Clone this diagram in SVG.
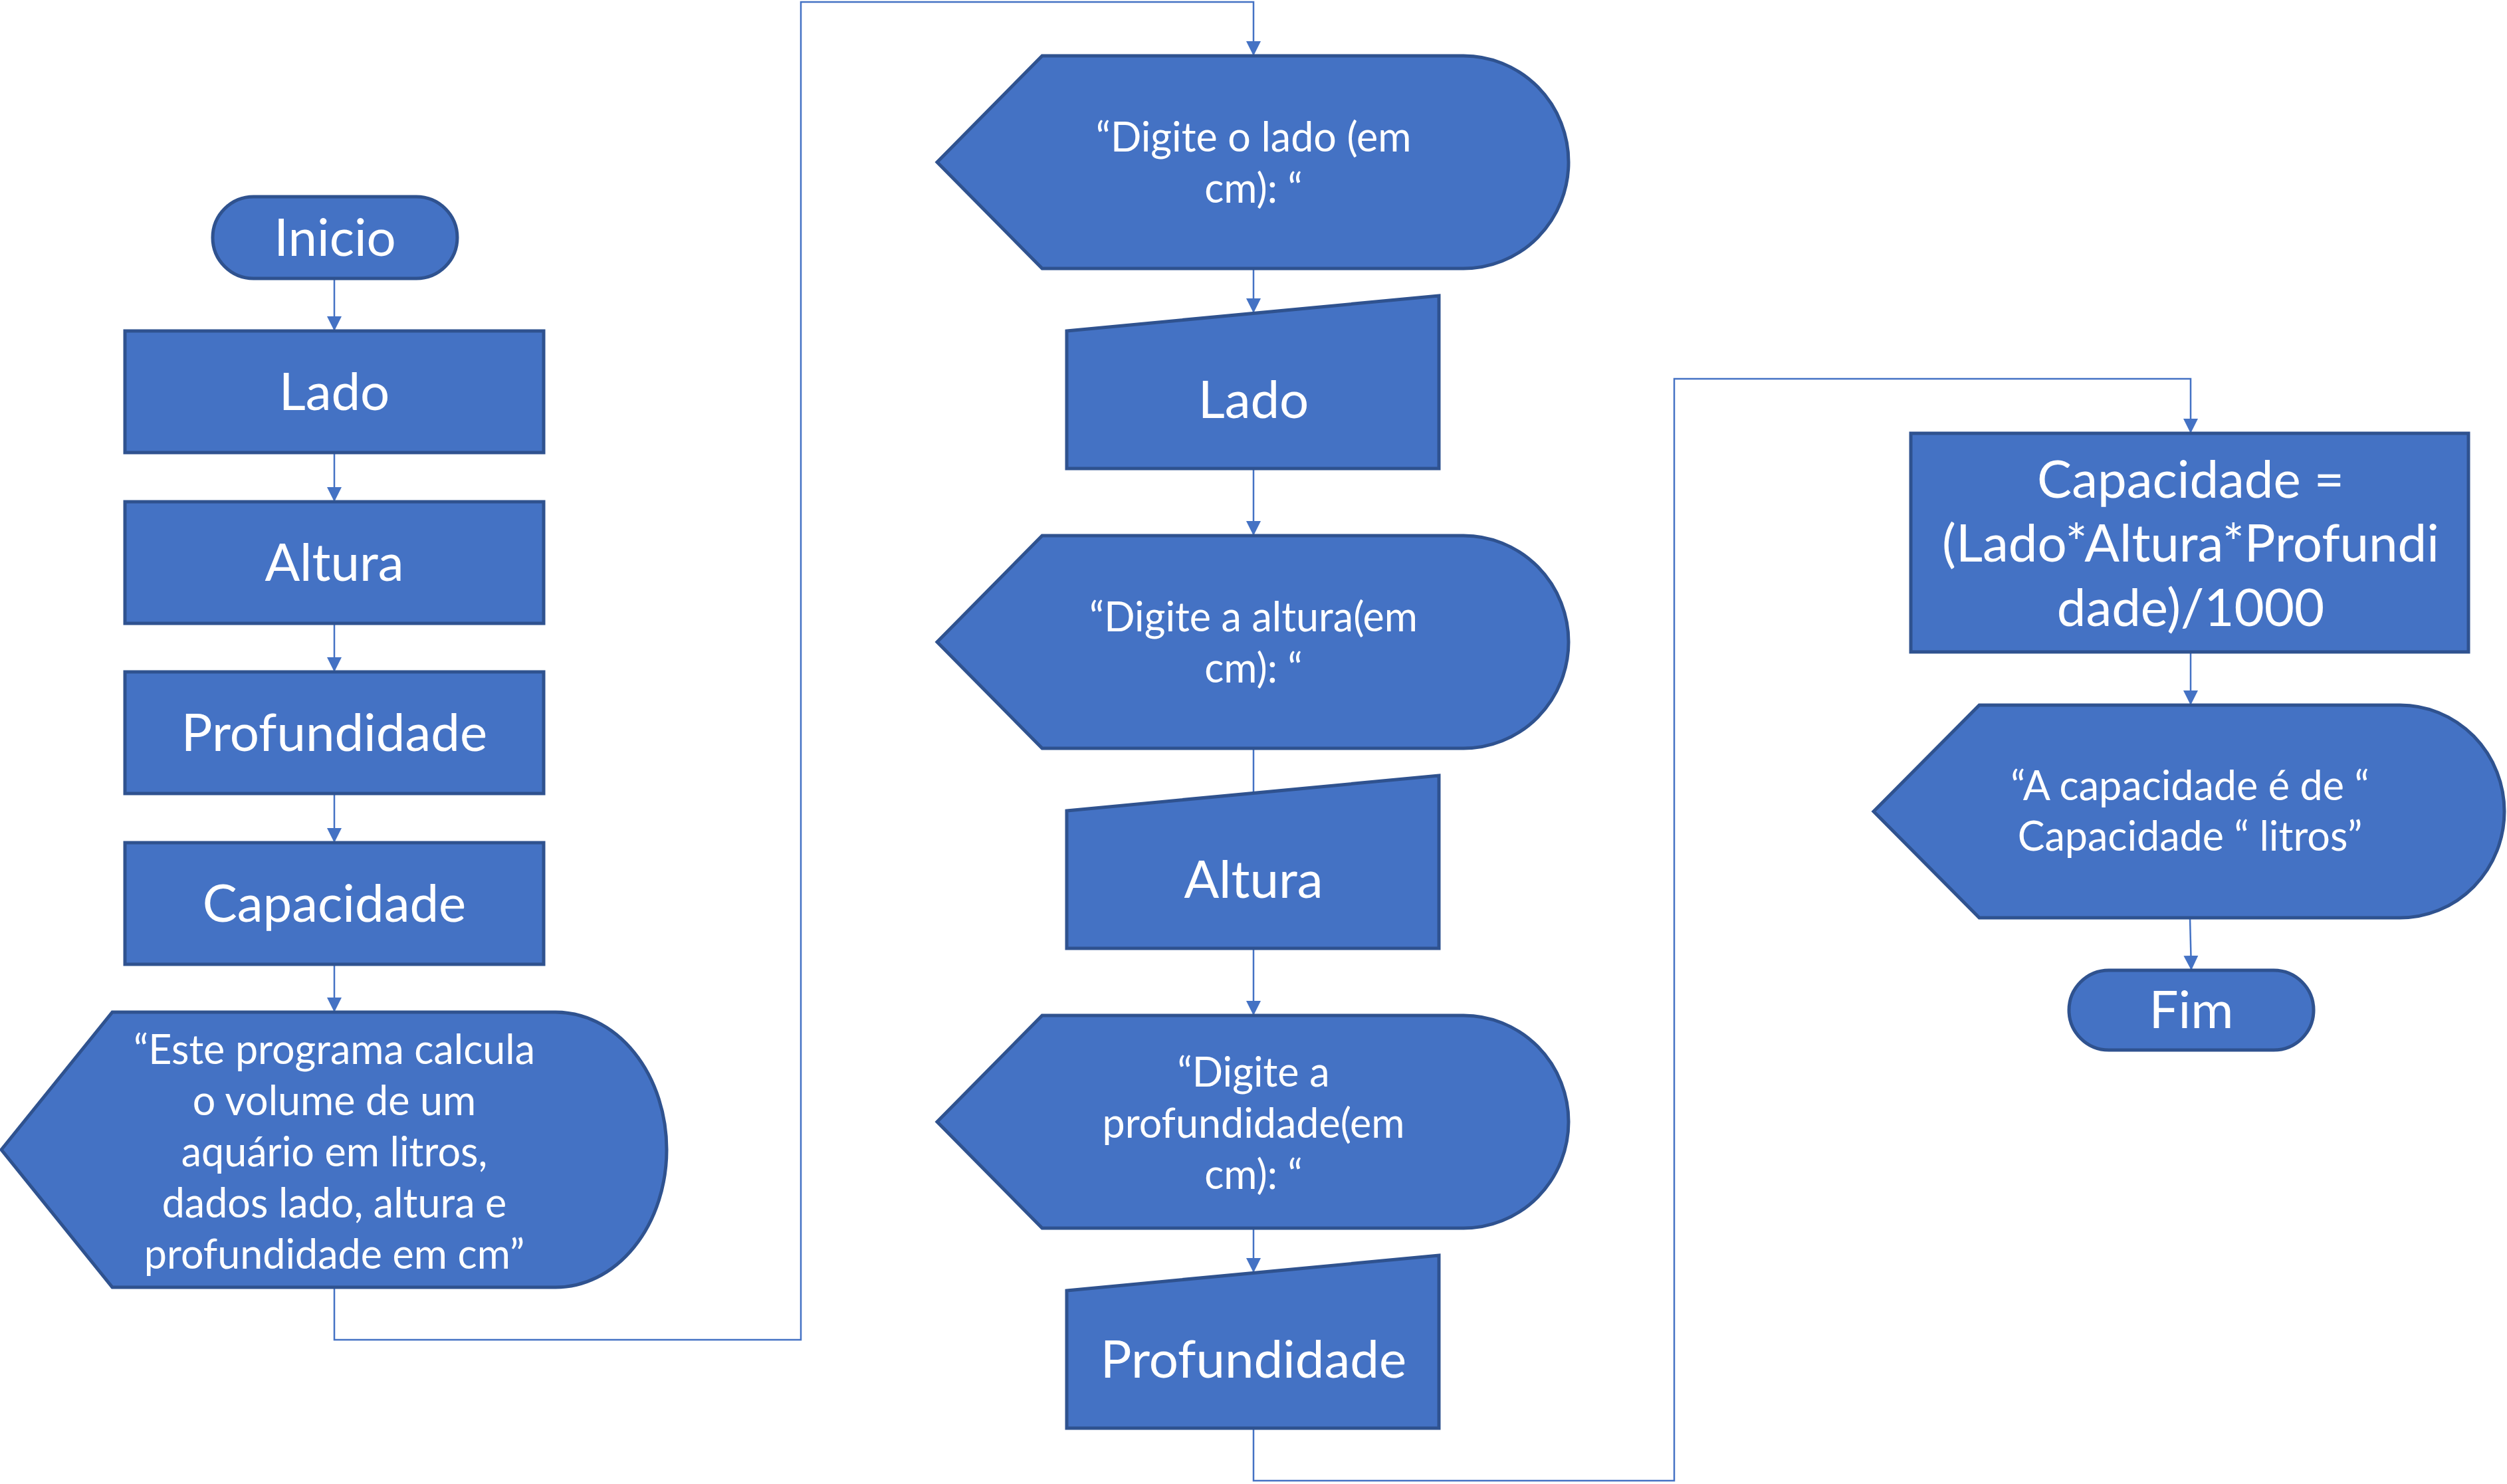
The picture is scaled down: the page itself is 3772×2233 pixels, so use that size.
<svg xmlns="http://www.w3.org/2000/svg" width="3772" height="2233" viewBox="0 0 3772 2233">
<defs>
<style>
.shape{fill:#4472C4;stroke:#2F528F;stroke-width:5}
.conn{fill:none;stroke:#4472C4;stroke-width:2.5}
.t{font-family:Lato,"Open Sans","Liberation Sans",sans-serif;fill:#FFFFFF;text-anchor:middle}
.big{font-size:78px}
.small{font-size:61px}
</style>
<marker id="arrow" markerUnits="userSpaceOnUse" markerWidth="22" markerHeight="26" viewBox="0 0 10 10" refX="10" refY="5" orient="auto">
<path d="M0,0 L10,5 L0,10 Z" fill="#4472C4"/>
</marker>
</defs>
<rect width="3772" height="2233" fill="#FFFFFF"/>
<g id="connectors">
<line class="conn" x1="503" y1="419" x2="503" y2="498" marker-end="url(#arrow)"/>
<line class="conn" x1="503" y1="681" x2="503" y2="755" marker-end="url(#arrow)"/>
<line class="conn" x1="503" y1="938" x2="503" y2="1011" marker-end="url(#arrow)"/>
<line class="conn" x1="503" y1="1194" x2="503" y2="1268" marker-end="url(#arrow)"/>
<line class="conn" x1="503" y1="1451" x2="503" y2="1523" marker-end="url(#arrow)"/>
<path class="conn" d="M503,1937 V2016 H1205 V3 H1886 V84" marker-end="url(#arrow)"/>
<line class="conn" x1="1886" y1="404" x2="1886" y2="471" marker-end="url(#arrow)"/>
<line class="conn" x1="1886" y1="705" x2="1886" y2="806" marker-end="url(#arrow)"/>
<line class="conn" x1="1886" y1="1126" x2="1886" y2="1193"/>
<line class="conn" x1="1886" y1="1427" x2="1886" y2="1528" marker-end="url(#arrow)"/>
<line class="conn" x1="1886" y1="1848" x2="1886" y2="1915" marker-end="url(#arrow)"/>
<path class="conn" d="M1886,2149 V2228 H2519 V570 H3296 V652" marker-end="url(#arrow)"/>
<line class="conn" x1="3296" y1="981" x2="3296" y2="1061" marker-end="url(#arrow)"/>
<line class="conn" x1="3295" y1="1381" x2="3297" y2="1460" marker-end="url(#arrow)"/>
</g>
<g id="inicio">
<rect class="shape" x="320" y="296" width="368" height="123" rx="61.5" ry="61.5"/>
<text class="t big" x="504" y="385">Inicio</text>
</g>
<g id="var-lado">
<rect class="shape" x="188" y="498" width="630" height="183"/>
<text class="t big" x="503" y="617">Lado</text>
</g>
<g id="var-altura">
<rect class="shape" x="188" y="755" width="630" height="183"/>
<text class="t big" x="503" y="874">Altura</text>
</g>
<g id="var-profundidade">
<rect class="shape" x="188" y="1011" width="630" height="183"/>
<text class="t big" x="503" y="1130">Profundidade</text>
</g>
<g id="var-capacidade">
<rect class="shape" x="188" y="1268" width="630" height="183"/>
<text class="t big" x="503" y="1387">Capacidade</text>
</g>
<g id="display-intro">
<path class="shape" d="M2,1730 L169,1523 L836,1523 A167,207 0 0 1 836,1937 L169,1937 Z"/>
<text class="t small" x="503" y="1601">“Este programa calcula</text>
<text class="t small" x="503" y="1678">o volume de um</text>
<text class="t small" x="503" y="1755">aquário em litros,</text>
<text class="t small" x="503" y="1832">dados lado, altura e</text>
<text class="t small" x="503" y="1909">profundidade em cm”</text>
</g>
<g id="display-lado">
<path class="shape" d="M1410,244 L1568,84 L2202,84 A158,160 0 0 1 2202,404 L1568,404 Z"/>
<text class="t small" x="1886" y="228">“Digite o lado (em</text>
<text class="t small" x="1886" y="305">cm): “</text>
</g>
<g id="input-lado">
<path class="shape" d="M1605,498 L2165,445 L2165,705 L1605,705 Z"/>
<text class="t big" x="1886" y="629">Lado</text>
</g>
<g id="display-altura">
<path class="shape" d="M1410,966 L1568,806 L2202,806 A158,160 0 0 1 2202,1126 L1568,1126 Z"/>
<text class="t small" x="1886" y="950">“Digite a altura(em</text>
<text class="t small" x="1886" y="1027">cm): “</text>
</g>
<g id="input-altura">
<path class="shape" d="M1605,1220 L2165,1167 L2165,1427 L1605,1427 Z"/>
<text class="t big" x="1886" y="1351">Altura</text>
</g>
<g id="display-profundidade">
<path class="shape" d="M1410,1688 L1568,1528 L2202,1528 A158,160 0 0 1 2202,1848 L1568,1848 Z"/>
<text class="t small" x="1886" y="1635">“Digite a</text>
<text class="t small" x="1886" y="1712">profundidade(em</text>
<text class="t small" x="1886" y="1789">cm): “</text>
</g>
<g id="input-profundidade">
<path class="shape" d="M1605,1942 L2165,1889 L2165,2149 L1605,2149 Z"/>
<text class="t big" x="1886" y="2073">Profundidade</text>
</g>
<g id="calc-capacidade">
<rect class="shape" x="2875" y="652" width="839" height="329"/>
<text class="t big" x="3296" y="749">Capacidade =</text>
<text class="t big" x="3296" y="845">(Lado*Altura*Profundi</text>
<text class="t big" x="3296" y="942">dade)/1000</text>
</g>
<g id="display-resultado">
<path class="shape" d="M2819,1221 L2978,1061 L3611,1061 A157,160 0 0 1 3611,1381 L2978,1381 Z"/>
<text class="t small" x="3295" y="1204">“A capacidade é de “</text>
<text class="t small" x="3295" y="1280">Capacidade “ litros”</text>
</g>
<g id="fim">
<rect class="shape" x="3113" y="1460" width="368" height="120" rx="60" ry="60"/>
<text class="t big" x="3297" y="1547">Fim</text>
</g>
</svg>
